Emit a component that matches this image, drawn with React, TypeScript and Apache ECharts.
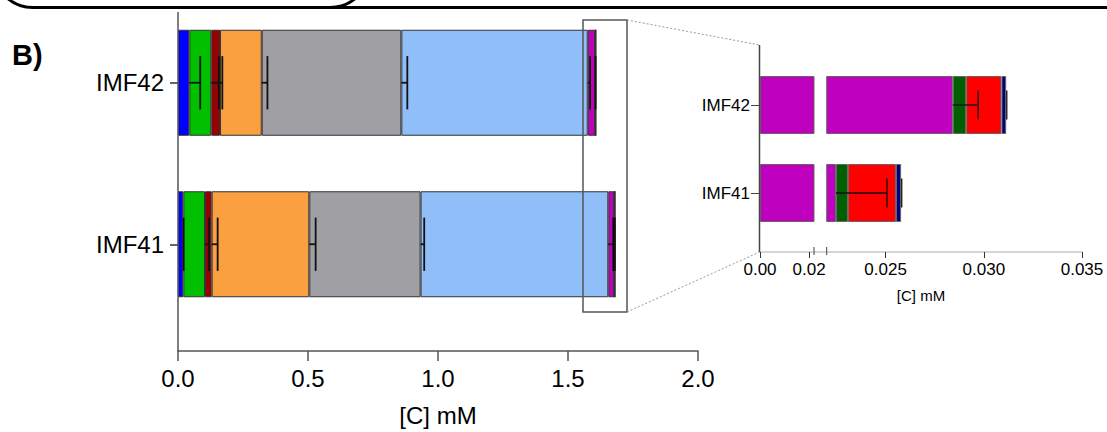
import React, { useEffect, useRef } from "react";
import * as echarts from "echarts";

// categories (bottom to top on the y axis)
const categories = ["IMF41", "IMF42"];

// segment names and colours (stack order, left to right)
const segmentNames = ["s1", "s2", "s3", "s4", "s5", "s6", "s7", "s8", "s9", "s10"];
const segmentColors = ["#0000FF", "#00C000", "#990000", "#FBA040", "#A09FA4", "#90BEF8", "#BF00BF", "#006000", "#FF0000", "#000080"];

// segment values [IMF41, IMF42] in mM
const s1 = [0.0205, 0.0435];
const s2 = [0.0835, 0.0845];
const s3 = [0.0255, 0.0335];
const s4 = [0.3755, 0.1605];
const s5 = [0.428, 0.537];
const s6 = [0.722, 0.717];
const s7 = [0.02247, 0.02842];
const s8 = [0.00061, 0.00068];
const s9 = [0.00245, 0.0018];
const s10 = [0.00026, 0.00024];
const segmentValues = [s1, s2, s3, s4, s5, s6, s7, s8, s9, s10];

// standard deviations [IMF41, IMF42]
const sd1 = [0.001, 0.042];
const sd2 = [0.0154, 0.029];
const sd3 = [0.023, 0.009];
const sd4 = [0.0244, 0.022];
const sd5 = [0.014, 0.023];
const sd6 = [0.019, 0.009];
const sd7 = [0.0026, 0.00129];
const sd8 = [0, 0];
const sd9 = [0, 0];
const sd10 = [0.00003, 0.00003];
const segmentSD = [sd1, sd2, sd3, sd4, sd5, sd6, sd7, sd8, sd9, sd10];

// main axis ticks
const mainTicks = [0, 0.5, 1.0, 1.5, 2.0];
// inset (broken axis) ranges and ticks
const insetLowRange = [0, 0.022];
const insetHighRange = [0.022, 0.035];
const insetLowTicks = [0, 0.02];
const insetHighTicks = [0.025, 0.03, 0.035];

// which segments appear in the inset
const insetSegments = [6, 7, 8, 9];

const FONT = "Liberation Sans, Arial, sans-serif";

function errorData(segIdx: number[], offsetBase: boolean) {
  // returns [end, catIndex, sd] for each segment and category
  const out: number[][] = [];
  categories.forEach((_, ci) => {
    let cum = 0;
    segmentValues.forEach((vals, si) => {
      cum += vals[ci];
      if (segIdx.includes(si)) {
        let end = cum;
        if (!offsetBase) {
          end = 0;
          for (let k = segIdx[0]; k <= si; k++) end += segmentValues[k][ci];
        }
        if (segmentSD[si][ci] > 0) out.push([end, ci, segmentSD[si][ci]]);
      }
    });
  });
  return out;
}

const makeRenderErr = (frac: number, lw: number) => (params: any, api: any) => {
  const end = api.value(0);
  const cat = api.value(1);
  const sd = api.value(2);
  const p0 = api.coord([end, cat]);
  const p1 = api.coord([end + sd, cat]);
  const band = api.size([0, 1])[1];
  const h = band * frac;
  const style = { stroke: "#111", lineWidth: lw };
  return {
    type: "group",
    children: [
      { type: "line", shape: { x1: p0[0], y1: p0[1], x2: p1[0], y2: p1[1] }, style },
      { type: "line", shape: { x1: p1[0], y1: p1[1] - h, x2: p1[0], y2: p1[1] + h }, style },
    ],
  };
};

export default function App() {
  const ref = useRef<HTMLDivElement>(null);
  useEffect(() => {
    document.body.style.margin = "0";
    const chart = echarts.init(ref.current!, null, { renderer: "svg" });
    const allIdx = segmentNames.map((_, i) => i);

    const mainBars = segmentNames.map((n, i) => ({
      type: "bar",
      name: n,
      stack: "main",
      xAxisIndex: 0,
      yAxisIndex: 0,
      barWidth: 106,
      data: segmentValues[i],
      itemStyle: { color: segmentColors[i], borderColor: "#333", borderWidth: 1 },
      z: 2,
    }));

    const insetBars = (xi: number) =>
      insetSegments.map((si) => ({
        type: "bar",
        name: segmentNames[si] + "_in" + xi,
        stack: "inset" + xi,
        xAxisIndex: xi,
        yAxisIndex: xi,
        barWidth: 58,
        clip: true,
        data: segmentValues[si],
        itemStyle: { color: segmentColors[si], borderColor: "#666", borderWidth: 1 },
        z: 2,
      }));

    const option: any = {
      animation: false,
      grid: [
        { left: 178, width: 520, top: 2, height: 324 },
        { left: 760, width: 54, top: 61, height: 176 },
        { left: 826.7, width: 255.3, top: 61, height: 176 },
      ],
      xAxis: [
        {
          type: "value",
          gridIndex: 0,
          min: 0,
          max: 2,
          interval: 0.5,
          offset: 26,
          splitLine: { show: false },
          axisLine: { show: true, lineStyle: { color: "#555", width: 1.5 } },
          axisTick: { show: true, length: 10, lineStyle: { color: "#555", width: 1.5 }, customValues: mainTicks },
          axisLabel: {
            fontSize: 24,
            fontFamily: FONT,
            color: "#000",
            margin: 15,
            customValues: mainTicks,
            formatter: (v: number) => v.toFixed(1),
          },
          name: "[C] mM",
          nameLocation: "middle",
          nameGap: 52,
          nameTextStyle: { fontSize: 24, fontFamily: FONT, color: "#000" },
        },
        {
          type: "value",
          gridIndex: 1,
          min: insetLowRange[0],
          max: insetLowRange[1],
          offset: 15,
          splitLine: { show: false },
          axisLine: { show: true, lineStyle: { color: "#c8c8c8", width: 1.5 } },
          axisTick: { show: true, length: 6, lineStyle: { color: "#333", width: 1 }, customValues: insetLowTicks },
          axisLabel: {
            fontSize: 17,
            fontFamily: FONT,
            color: "#000",
            margin: 9,
            customValues: insetLowTicks,
            formatter: (v: number) => v.toFixed(2),
          },
        },
        {
          type: "value",
          gridIndex: 2,
          min: insetHighRange[0],
          max: insetHighRange[1],
          offset: 15,
          splitLine: { show: false },
          axisLine: { show: true, lineStyle: { color: "#c8c8c8", width: 1.5 } },
          axisTick: { show: true, length: 6, lineStyle: { color: "#333", width: 1 }, customValues: insetHighTicks },
          axisLabel: {
            fontSize: 17,
            fontFamily: FONT,
            color: "#000",
            margin: 9,
            customValues: insetHighTicks,
            formatter: (v: number) => v.toFixed(3),
          },
        },
      ],
      yAxis: [
        {
          type: "category",
          gridIndex: 0,
          data: categories,
          axisLine: { show: false },
          axisTick: { show: true, alignWithLabel: true, length: 8, lineStyle: { color: "#333", width: 1.5 } },
          axisLabel: { fontSize: 24, fontFamily: FONT, color: "#000", margin: 14 },
        },
        {
          type: "category",
          gridIndex: 1,
          data: categories,
          axisLine: { show: false },
          axisTick: { show: true, alignWithLabel: true, length: 9, lineStyle: { color: "#444", width: 1 } },
          axisLabel: { fontSize: 17, fontFamily: FONT, color: "#000", margin: 10 },
        },
        {
          type: "category",
          gridIndex: 2,
          data: categories,
          show: false,
        },
      ],
      series: [
        ...mainBars,
        ...insetBars(1),
        ...insetBars(2),
        {
          type: "custom",
          name: "err_main",
          xAxisIndex: 0,
          yAxisIndex: 0,
          renderItem: makeRenderErr(0.165, 1.8),
          encode: { x: 0, y: 1 },
          data: errorData(allIdx.slice(0, 7), true),
          z: 5,
        },
        {
          type: "custom",
          name: "err_inset",
          xAxisIndex: 2,
          yAxisIndex: 2,
          renderItem: makeRenderErr(0.165, 1.3),
          encode: { x: 0, y: 1 },
          data: errorData(insetSegments, false),
          z: 5,
        },
      ],
      graphic: [
        {
          type: "rect",
          shape: { x: -7, y: -100, width: 377, height: 107.5, r: 40 },
          style: { fill: "none", stroke: "#000", lineWidth: 3 },
          z: 10,
        },
        {
          type: "line",
          shape: { x1: 330, y1: 7.5, x2: 1107, y2: 7.5 },
          style: { stroke: "#000", lineWidth: 3 },
          z: 10,
        },
        {
          type: "text",
          x: 12,
          y: 40,
          style: { text: "B)", fontSize: 29, fontWeight: "bold", fontFamily: FONT, fill: "#000" },
          z: 10,
        },
        {
          type: "line",
          shape: { x1: 178, y1: 12, x2: 178, y2: 352 },
          style: { stroke: "#555", lineWidth: 1.5 },
          z: 10,
        },
        {
          type: "rect",
          shape: { x: 583, y: 20, width: 44, height: 292 },
          style: { fill: "none", stroke: "#555", lineWidth: 1.5 },
          z: 10,
        },
        {
          type: "line",
          shape: { x1: 627, y1: 20, x2: 759.5, y2: 45 },
          style: { stroke: "#999", lineWidth: 1, lineDash: [2, 2] },
          z: 10,
        },
        {
          type: "line",
          shape: { x1: 627, y1: 312, x2: 759.5, y2: 252 },
          style: { stroke: "#999", lineWidth: 1, lineDash: [2, 2] },
          z: 10,
        },
        {
          type: "line",
          shape: { x1: 759.5, y1: 45, x2: 759.5, y2: 252 },
          style: { stroke: "#444", lineWidth: 1.5 },
          z: 10,
        },
        {
          type: "line",
          shape: { x1: 814, y1: 252, x2: 826.7, y2: 252 },
          style: { stroke: "#c8c8c8", lineWidth: 1.5 },
          z: 9,
        },
        {
          type: "line",
          shape: { x1: 814, y1: 247, x2: 814, y2: 255 },
          style: { stroke: "#444", lineWidth: 1 },
          z: 10,
        },
        {
          type: "line",
          shape: { x1: 826.7, y1: 247, x2: 826.7, y2: 255 },
          style: { stroke: "#444", lineWidth: 1 },
          z: 10,
        },
        {
          type: "text",
          x: 921,
          y: 295,
          style: {
            text: "[C] mM",
            fontSize: 15,
            fontFamily: FONT,
            fill: "#000",
            textAlign: "center",
            textVerticalAlign: "middle",
          },
          z: 10,
        },
      ],
    };
    chart.setOption(option);
    return () => chart.dispose();
  }, []);
  return (
    <div
      ref={ref}
      style={{ position: "fixed", left: 0, top: 0, width: 1107, height: 432, background: "#fff" }}
    />
  );
}
